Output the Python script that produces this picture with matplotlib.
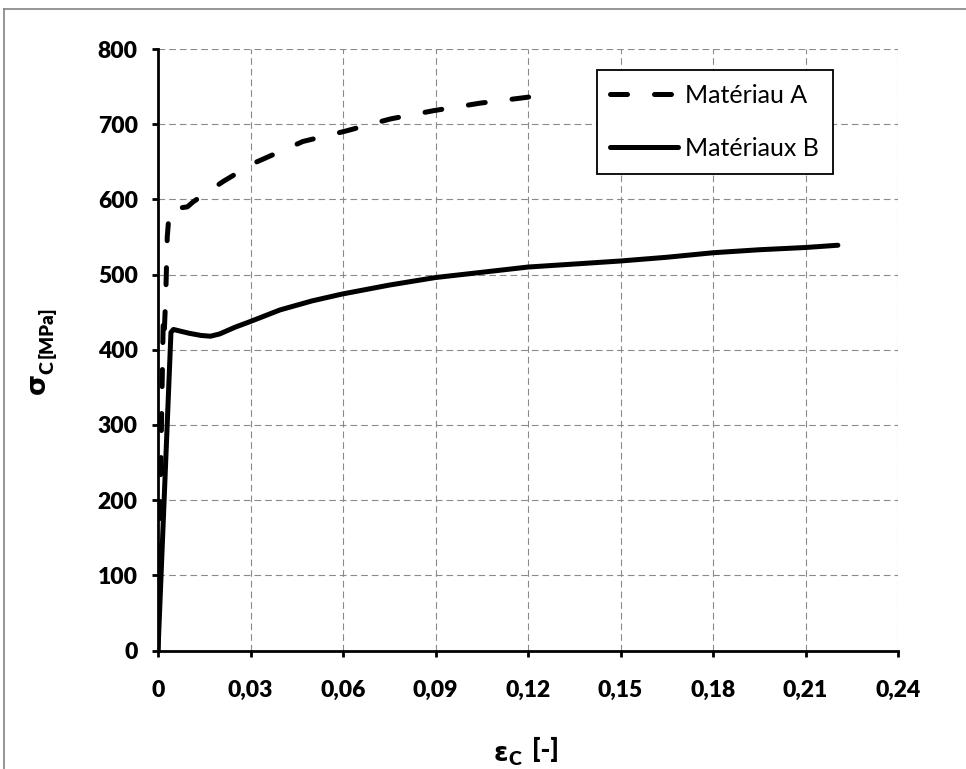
import matplotlib
matplotlib.use("Agg")
import matplotlib.pyplot as plt
from matplotlib.lines import Line2D
from matplotlib.ticker import FixedLocator, FixedFormatter

# ---- data ----
strain_A = [0, 0.0012, 0.0017, 0.0020, 0.0025, 0.0030, 0.0037, 0.0060, 0.0095,
            0.0115, 0.0212, 0.031, 0.047, 0.061, 0.0754, 0.0894, 0.1045, 0.1202]
stress_A = [0, 320, 440, 420, 470, 550, 586, 588, 590,
            597, 624, 648, 677, 691, 707, 718, 728, 736]

strain_B = [0, 0.0042, 0.0050, 0.0070, 0.0100, 0.0140, 0.0170, 0.0200, 0.0250,
            0.0296, 0.0396, 0.0500, 0.0596, 0.0750, 0.0899, 0.1050, 0.1200,
            0.1350, 0.1498, 0.1650, 0.1800, 0.1950, 0.2100, 0.2205]
stress_B = [0, 423, 427, 425, 422, 419, 418, 421, 430,
            437, 453, 465, 474, 486, 496, 503, 510,
            514, 518, 523, 529, 533, 536, 539]

label_A = "Matériau A"
label_B = "Matériaux B"

xticks = [0, 0.03, 0.06, 0.09, 0.12, 0.15, 0.18, 0.21, 0.24]
xticklabels = ["0", "0,03", "0,06", "0,09", "0,12", "0,15", "0,18", "0,21", "0,24"]
yticks = [0, 100, 200, 300, 400, 500, 600, 700, 800]
yticklabels = [str(v) for v in yticks]

W, H = 966, 769
fig = plt.figure(figsize=(W / 100, H / 100), dpi=100)
fig.patch.set_facecolor("white")

# axes position in pixels
L, R, B, T = 158, 898, 650.5, 49
ax = fig.add_axes([L / W, 1 - B / H, (R - L) / W, (B - T) / H])

ax.plot(strain_A, stress_A, color="black", lw=3.6, linestyle=(0, (3.4, 5.4)),
        dash_capstyle="round", solid_capstyle="round", label=label_A, zorder=3)
ax.plot(strain_B, stress_B, color="black", lw=3.6, solid_capstyle="round",
        solid_joinstyle="round", label=label_B, zorder=3)

ax.set_xlim(0, 0.24)
ax.set_ylim(0, 800)
ax.xaxis.set_major_locator(FixedLocator(xticks))
ax.xaxis.set_major_formatter(FixedFormatter(xticklabels))
ax.yaxis.set_major_locator(FixedLocator(yticks))
ax.yaxis.set_major_formatter(FixedFormatter(yticklabels))

for s in ["top", "right"]:
    ax.spines[s].set_visible(False)
for s in ["left", "bottom"]:
    ax.spines[s].set_linewidth(2.0)
    ax.spines[s].set_color("black")
    ax.spines[s].set_zorder(4)

ax.grid(True, color="#8a8a8a", lw=0.8, linestyle=(0, (6, 3.6)))
ax.set_axisbelow(True)
ax.tick_params(axis="both", direction="out", length=4.5, width=2, color="black")
ax.tick_params(axis="y", pad=10)
ax.tick_params(axis="x", pad=17)
fam = ["Lato", "DejaVu Sans"]
for lab in ax.get_xticklabels() + ax.get_yticklabels():
    lab.set_fontfamily(fam)
    lab.set_fontweight("heavy")
    lab.set_fontsize(16.5)

leg = ax.legend(loc="upper right", bbox_to_anchor=(0.912, 0.965),
                prop={"family": fam, "size": 18},
                frameon=True, fancybox=False, shadow=False,
                handlelength=2.7, handletextpad=0.3, borderpad=0.55,
                labelspacing=1.2, borderaxespad=0)
leg.get_frame().set_edgecolor("black")
leg.get_frame().set_linewidth(1.3)
leg.get_frame().set_facecolor("white")
leg.get_frame().set_alpha(1)

def px(x, y):
    return x / W, 1 - y / H

# x label: epsilon_C [-]
fig.text(*px(494, 761), "ε", family=["DejaVu Sans"], weight="bold", fontsize=19,
         ha="left", va="baseline")
fig.text(*px(508, 765), "C", family=fam, weight="heavy", fontsize=14,
         ha="left", va="baseline")
fig.text(*px(532, 758), "[-]", family=fam, weight="heavy", fontsize=19,
         ha="left", va="baseline")

# y label: sigma_C [MPa] (rotated, reads bottom to top)
fig.text(*px(45, 394), "σ", family=["DejaVu Sans"], weight="bold", fontsize=19.5,
         rotation=90, ha="left", va="baseline", rotation_mode="anchor")
fig.text(*px(53, 374), "C", family=fam, weight="heavy", fontsize=14,
         rotation=90, ha="left", va="baseline", rotation_mode="anchor")
fig.text(*px(53, 358), "[MPa]", family=fam, weight="heavy", fontsize=13.5,
         rotation=90, ha="left", va="baseline", rotation_mode="anchor")

# chart border (cropped on right/bottom in the reference)
fig.add_artist(Line2D([4 / W, 1.0], [1 - 9 / H, 1 - 9 / H], transform=fig.transFigure,
                      color="#8c8c8c", lw=1.3))
fig.add_artist(Line2D([4 / W, 4 / W], [0, 1 - 9 / H], transform=fig.transFigure,
                      color="#8c8c8c", lw=1.3))

fig.savefig("out.png", dpi=100)
